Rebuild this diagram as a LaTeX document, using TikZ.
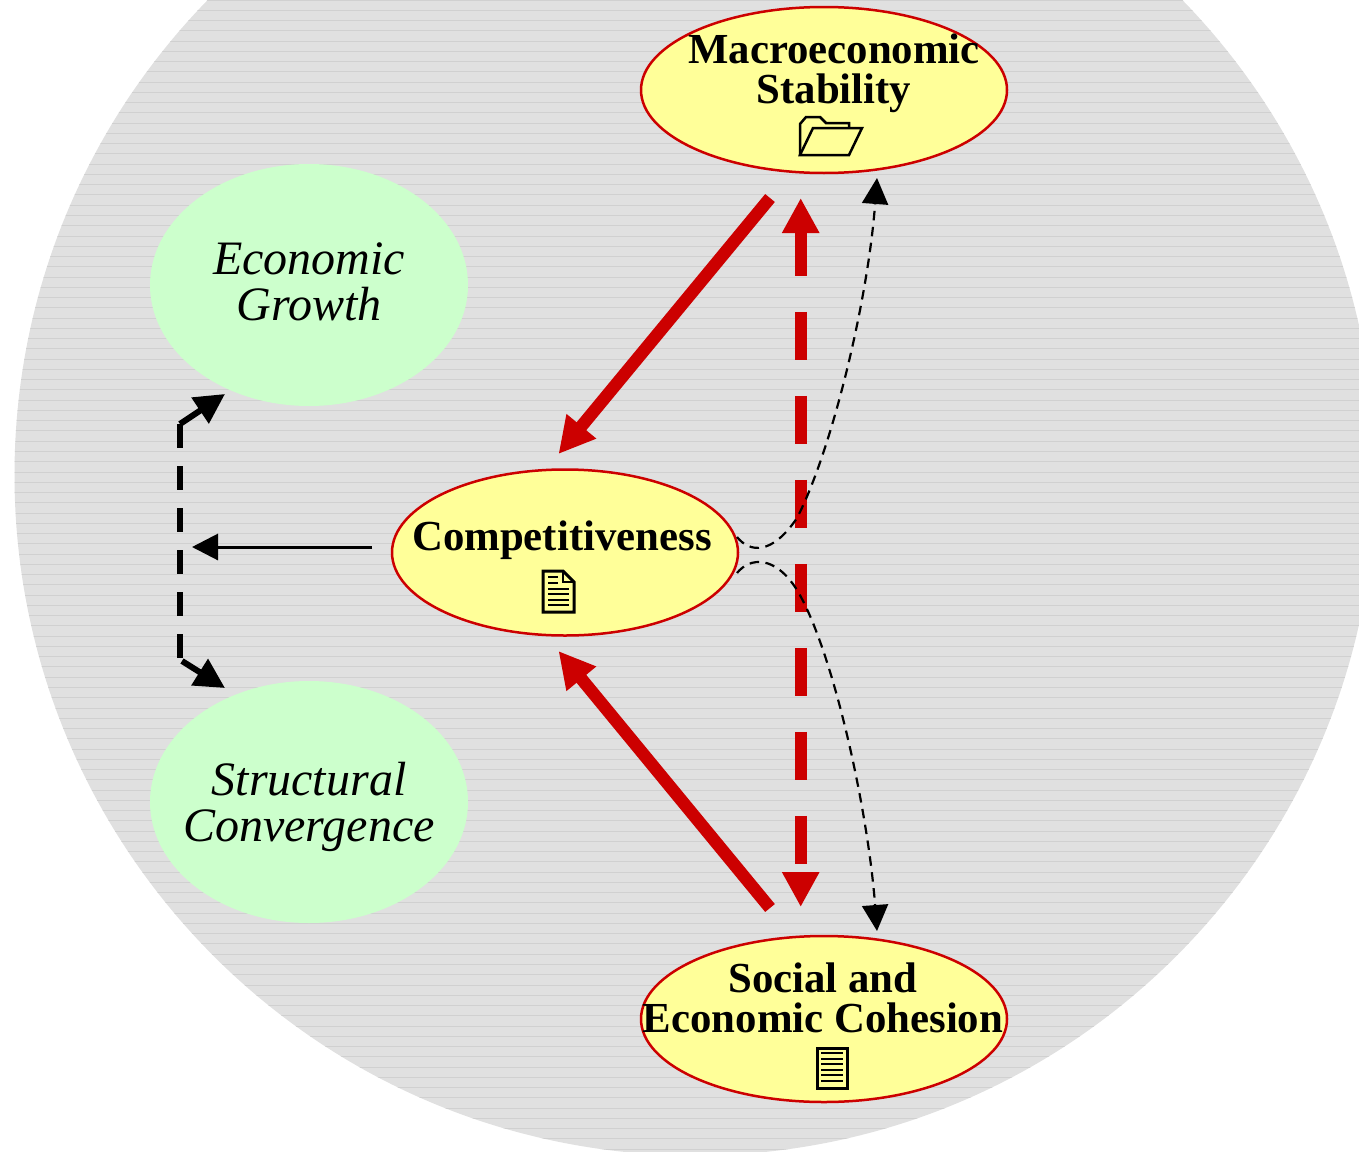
\documentclass[tikz,border=0pt]{standalone}
\usepackage{fontspec}
\setmainfont{Liberation Serif}
\usetikzlibrary{arrows.meta}
\usetikzlibrary{shapes.geometric}
\definecolor{discgray}{HTML}{E0E0E0}
\definecolor{discline}{HTML}{D0D0D0}
\definecolor{policyred}{HTML}{CC0000}
\definecolor{policyfill}{HTML}{FFFF99}
\definecolor{goalgreen}{HTML}{CCFFCC}

\begin{document}
\begin{tikzpicture}[
        x=1pt, y=-1pt,
        % --- Styles ---
        policy/.style={ellipse, draw=policyred, line width=2.5pt, fill=policyfill, inner sep=0pt, minimum width=366pt, minimum height=166pt},
        goal/.style={ellipse, fill=goalgreen, inner sep=0pt, minimum width=318pt, minimum height=242pt},
        policytext/.style={align=center, font=\fontsize{42.8}{40}\selectfont\bfseries},
        goaltext/.style={align=center, font=\fontsize{48}{46}\selectfont\itshape},
        strongarrow/.style={-{Triangle[length=36pt,width=36pt]}, line width=12.5pt, policyred},
        mutualarrow/.style={{Triangle[length=35pt,width=35pt]}-{Triangle[length=35pt,width=35pt]}, line width=12pt, policyred, dash pattern=on 48pt off 36pt, dash phase=3pt},
        goalarrow/.style={-{Triangle[length=30pt,width=30pt]}, line width=6pt},
        goalline/.style={line width=6pt, dash pattern=on 24pt off 18pt},
        thinarrow/.style={-{Triangle[length=26pt,width=26pt]}, line width=3pt},
        linkarrow/.style={-{Triangle[length=26pt,width=26pt]}, line width=2.2pt, dash pattern=on 9.5pt off 6.5pt},
        icon/.style={line width=3pt, line join=miter},
    ]
    \useasboundingbox (0,0) rectangle (1359,1151);
    \clip (0,0) rectangle (1359,1151);

    % --- Background disc ---
    \fill[discgray] (695,475) circle (680.5);
    \begin{scope}
        \clip (695,475) circle (680.5);
        \foreach \ypos in {0,10.26,...,1151} {
            \draw[discline, line width=0.9pt] (0,\ypos) -- (1359,\ypos);
        }
    \end{scope}

    % --- Ellipses ---
    \node[goal] (growth) at (309,285) {};
    \node[goal] (convergence) at (309,802) {};
    \node[policy] (macro) at (824,90) {};
    \node[policy, minimum width=346pt, minimum height=166pt] (comp) at (565,552.5) {};
    \node[policy] (social) at (824,1019) {};

    % --- Labels ---
    \node[goaltext] (growthtext) at (309,281.5) {Economic\\Growth};
    \node[goaltext] (convergencetext) at (309,807) {Structural\\Convergence};
    \node[policytext] (macrotext) at (834,73.5) {Macroeconomic\\Stability};
    \node[policytext] (comptext) at (562,540.5) {Competitiveness};
    \node[policytext] (socialtext) at (823,997.5) {Social and\\Economic Cohesion};

    % --- Free ends of the connectors ---
    \coordinate (macroout) at (770,198);
    \coordinate (compin) at (558.5,454);
    \coordinate (socialout) at (770,908);
    \coordinate (compinlow) at (558.5,651);
    \coordinate (macroin) at (800.7,198);
    \coordinate (socialin) at (800.7,907);
    \coordinate (growthin) at (225,394);
    \coordinate (convin) at (225,688);
    \coordinate (bendtop) at (180,424);
    \coordinate (bendlow) at (180,658);
    \coordinate (bendturn) at (182,661);
    \coordinate (compleft) at (372,547);
    \coordinate (goalmid) at (192,547);
    \coordinate (compup) at (737,537);
    \coordinate (compdown) at (737,573);
    \coordinate (macrolink) at (877,178);
    \coordinate (sociallink) at (877,931);

    % --- Red arrows ---
    \draw[strongarrow] (macroout) -- (compin);
    \draw[strongarrow] (socialout) -- (compinlow);
    \draw[mutualarrow] (macroin) -- (socialin);

    % --- Black arrows ---
    \draw[goalarrow] (bendtop) -- (growthin);
    \draw[goalline] (bendtop) -- (bendlow);
    \draw[goalarrow] (bendturn) -- (convin);
    \draw[thinarrow] (compleft) -- (goalmid);
    \draw[linkarrow] (compup) .. controls (750,553) and (772,555) .. (797,518) .. controls (832,450) and (868,300) .. (macrolink);
    \draw[linkarrow] (compdown) .. controls (750,557) and (775,555) .. (797,590) .. controls (833,650) and (868,810) .. (sociallink);

    % --- Icons ---
    % folder
    \draw[icon, line width=2.5pt] (800,155) -- (800,124) -- (806,117) -- (820,117) -- (826,123) -- (849,123) -- (849,128);
    \draw[icon, line width=2.5pt, fill=policyfill] (800,155) -- (813,128) -- (862,128) -- (849,155) -- cycle;
    % page with a folded corner
    \draw[icon] (543,571) -- (563,571) -- (574,582) -- (574,612) -- (543,612) -- cycle;
    \draw[icon, line width=2pt] (563,571) -- (563,582) -- (574,582);
    \foreach \ypos in {577,583} {
        \draw[icon, line width=2pt] (548,\ypos) -- (558,\ypos);
    }
    \foreach \ypos in {589,594,600,605} {
        \draw[icon, line width=2pt] (548,\ypos) -- (569,\ypos);
    }
    % page with lines
    \draw[icon] (817,1048) rectangle (847,1088);
    \foreach \ypos in {1053,1058.5,...,1084} {
        \draw[icon, line width=2pt] (821,\ypos) -- (843,\ypos);
    }
\end{tikzpicture}
\end{document}
